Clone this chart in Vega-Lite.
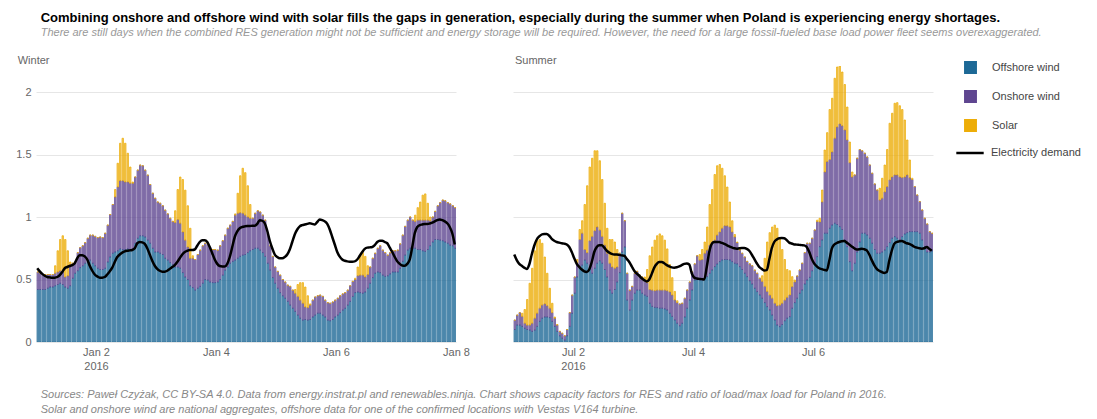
{
"$schema":"https://vega.github.io/schema/vega-lite/v6.json",
"padding":{"left":15,"top":12,"right":5,"bottom":5},
"config":{"font":"Liberation Sans","view":{"stroke":null},
"axis":{"labelFont":"Liberation Sans","labelFontSize":11,"labelColor":"#666","domain":false,"ticks":false,"title":null},
"legend":{"labelFont":"Liberation Sans","labelFontSize":11,"labelColor":"#444","rowPadding":17}},
"title":{"text":"Combining onshore and offshore wind with solar fills the gaps in generation, especially during the summer when Poland is experiencing energy shortages.","subtitle":"There are still days when the combined RES generation might not be sufficient and energy storage will be required. However, the need for a large fossil-fueled base load power fleet seems overexaggerated.","anchor":"start","dx":25,"font":"Liberation Sans","fontSize":13,"fontWeight":"bold","color":"#000","subtitleFont":"Liberation Sans","subtitleFontSize":11,"subtitleFontStyle":"italic","subtitleColor":"#999","subtitlePadding":2,"offset":17},
"datasets":{
"winter":[
{"t":"2016-01-01T00:00","off":0.42,"on":0.14,"sol":0,"dem":0.59},
{"t":"2016-01-01T01:00","off":0.42,"on":0.13,"sol":0,"dem":0.565},
{"t":"2016-01-01T02:00","off":0.42,"on":0.12,"sol":0,"dem":0.545},
{"t":"2016-01-01T03:00","off":0.42,"on":0.12,"sol":0,"dem":0.53},
{"t":"2016-01-01T04:00","off":0.43,"on":0.11,"sol":0,"dem":0.52},
{"t":"2016-01-01T05:00","off":0.44,"on":0.10,"sol":0,"dem":0.517},
{"t":"2016-01-01T06:00","off":0.44,"on":0.10,"sol":0,"dem":0.515},
{"t":"2016-01-01T07:00","off":0.45,"on":0.10,"sol":0.06,"dem":0.515},
{"t":"2016-01-01T08:00","off":0.46,"on":0.10,"sol":0.17,"dem":0.52},
{"t":"2016-01-01T09:00","off":0.47,"on":0.10,"sol":0.25,"dem":0.535},
{"t":"2016-01-01T10:00","off":0.46,"on":0.10,"sol":0.29,"dem":0.56},
{"t":"2016-01-01T11:00","off":0.44,"on":0.08,"sol":0.30,"dem":0.59},
{"t":"2016-01-01T12:00","off":0.43,"on":0.10,"sol":0.20,"dem":0.60},
{"t":"2016-01-01T13:00","off":0.45,"on":0.17,"sol":0.02,"dem":0.608},
{"t":"2016-01-01T14:00","off":0.51,"on":0.12,"sol":0,"dem":0.615},
{"t":"2016-01-01T15:00","off":0.55,"on":0.09,"sol":0,"dem":0.63},
{"t":"2016-01-01T16:00","off":0.57,"on":0.145,"sol":0,"dem":0.67},
{"t":"2016-01-01T17:00","off":0.595,"on":0.16,"sol":0,"dem":0.695},
{"t":"2016-01-01T18:00","off":0.61,"on":0.16,"sol":0,"dem":0.695},
{"t":"2016-01-01T19:00","off":0.63,"on":0.165,"sol":0,"dem":0.685},
{"t":"2016-01-01T20:00","off":0.645,"on":0.185,"sol":0,"dem":0.66},
{"t":"2016-01-01T21:00","off":0.655,"on":0.20,"sol":0,"dem":0.61},
{"t":"2016-01-01T22:00","off":0.63,"on":0.225,"sol":0,"dem":0.57},
{"t":"2016-01-01T23:00","off":0.61,"on":0.235,"sol":0,"dem":0.54},
{"t":"2016-01-02T00:00","off":0.59,"on":0.245,"sol":0,"dem":0.525},
{"t":"2016-01-02T01:00","off":0.58,"on":0.26,"sol":0,"dem":0.515},
{"t":"2016-01-02T02:00","off":0.58,"on":0.255,"sol":0,"dem":0.515},
{"t":"2016-01-02T03:00","off":0.59,"on":0.28,"sol":0,"dem":0.52},
{"t":"2016-01-02T04:00","off":0.64,"on":0.295,"sol":0,"dem":0.54},
{"t":"2016-01-02T05:00","off":0.68,"on":0.34,"sol":0,"dem":0.565},
{"t":"2016-01-02T06:00","off":0.71,"on":0.39,"sol":0,"dem":0.595},
{"t":"2016-01-02T07:00","off":0.72,"on":0.44,"sol":0.06,"dem":0.64},
{"t":"2016-01-02T08:00","off":0.73,"on":0.51,"sol":0.19,"dem":0.68},
{"t":"2016-01-02T09:00","off":0.745,"on":0.545,"sol":0.30,"dem":0.70},
{"t":"2016-01-02T10:00","off":0.74,"on":0.55,"sol":0.34,"dem":0.715},
{"t":"2016-01-02T11:00","off":0.74,"on":0.54,"sol":0.31,"dem":0.725},
{"t":"2016-01-02T12:00","off":0.745,"on":0.535,"sol":0.23,"dem":0.73},
{"t":"2016-01-02T13:00","off":0.74,"on":0.53,"sol":0.13,"dem":0.733},
{"t":"2016-01-02T14:00","off":0.745,"on":0.525,"sol":0.01,"dem":0.736},
{"t":"2016-01-02T15:00","off":0.79,"on":0.53,"sol":0,"dem":0.75},
{"t":"2016-01-02T16:00","off":0.83,"on":0.545,"sol":0,"dem":0.79},
{"t":"2016-01-02T17:00","off":0.85,"on":0.565,"sol":0,"dem":0.80},
{"t":"2016-01-02T18:00","off":0.85,"on":0.56,"sol":0,"dem":0.797},
{"t":"2016-01-02T19:00","off":0.84,"on":0.535,"sol":0,"dem":0.785},
{"t":"2016-01-02T20:00","off":0.815,"on":0.52,"sol":0,"dem":0.75},
{"t":"2016-01-02T21:00","off":0.79,"on":0.47,"sol":0,"dem":0.70},
{"t":"2016-01-02T22:00","off":0.75,"on":0.44,"sol":0,"dem":0.65},
{"t":"2016-01-02T23:00","off":0.72,"on":0.43,"sol":0,"dem":0.61},
{"t":"2016-01-03T00:00","off":0.72,"on":0.40,"sol":0,"dem":0.585},
{"t":"2016-01-03T01:00","off":0.71,"on":0.40,"sol":0,"dem":0.57},
{"t":"2016-01-03T02:00","off":0.70,"on":0.39,"sol":0,"dem":0.563},
{"t":"2016-01-03T03:00","off":0.67,"on":0.385,"sol":0,"dem":0.563},
{"t":"2016-01-03T04:00","off":0.655,"on":0.37,"sol":0,"dem":0.57},
{"t":"2016-01-03T05:00","off":0.635,"on":0.355,"sol":0,"dem":0.585},
{"t":"2016-01-03T06:00","off":0.62,"on":0.345,"sol":0,"dem":0.60},
{"t":"2016-01-03T07:00","off":0.60,"on":0.355,"sol":0.095,"dem":0.615},
{"t":"2016-01-03T08:00","off":0.60,"on":0.38,"sol":0.24,"dem":0.64},
{"t":"2016-01-03T09:00","off":0.59,"on":0.36,"sol":0.37,"dem":0.67},
{"t":"2016-01-03T10:00","off":0.555,"on":0.325,"sol":0.42,"dem":0.70},
{"t":"2016-01-03T11:00","off":0.52,"on":0.295,"sol":0.40,"dem":0.72},
{"t":"2016-01-03T12:00","off":0.50,"on":0.26,"sol":0.33,"dem":0.73},
{"t":"2016-01-03T13:00","off":0.45,"on":0.22,"sol":0.24,"dem":0.736},
{"t":"2016-01-03T14:00","off":0.435,"on":0.235,"sol":0.02,"dem":0.736},
{"t":"2016-01-03T15:00","off":0.415,"on":0.245,"sol":0,"dem":0.74},
{"t":"2016-01-03T16:00","off":0.43,"on":0.27,"sol":0,"dem":0.77},
{"t":"2016-01-03T17:00","off":0.445,"on":0.29,"sol":0,"dem":0.80},
{"t":"2016-01-03T18:00","off":0.47,"on":0.30,"sol":0,"dem":0.815},
{"t":"2016-01-03T19:00","off":0.50,"on":0.29,"sol":0,"dem":0.815},
{"t":"2016-01-03T20:00","off":0.495,"on":0.285,"sol":0,"dem":0.80},
{"t":"2016-01-03T21:00","off":0.48,"on":0.275,"sol":0,"dem":0.76},
{"t":"2016-01-03T22:00","off":0.475,"on":0.265,"sol":0,"dem":0.71},
{"t":"2016-01-03T23:00","off":0.475,"on":0.265,"sol":0,"dem":0.66},
{"t":"2016-01-04T00:00","off":0.48,"on":0.255,"sol":0,"dem":0.625},
{"t":"2016-01-04T01:00","off":0.50,"on":0.27,"sol":0,"dem":0.608},
{"t":"2016-01-04T02:00","off":0.535,"on":0.275,"sol":0,"dem":0.605},
{"t":"2016-01-04T03:00","off":0.575,"on":0.28,"sol":0,"dem":0.605},
{"t":"2016-01-04T04:00","off":0.60,"on":0.31,"sol":0,"dem":0.625},
{"t":"2016-01-04T05:00","off":0.63,"on":0.305,"sol":0,"dem":0.68},
{"t":"2016-01-04T06:00","off":0.645,"on":0.32,"sol":0,"dem":0.76},
{"t":"2016-01-04T07:00","off":0.655,"on":0.36,"sol":0.01,"dem":0.84},
{"t":"2016-01-04T08:00","off":0.67,"on":0.36,"sol":0.16,"dem":0.885},
{"t":"2016-01-04T09:00","off":0.685,"on":0.35,"sol":0.295,"dem":0.91},
{"t":"2016-01-04T10:00","off":0.695,"on":0.335,"sol":0.36,"dem":0.92},
{"t":"2016-01-04T11:00","off":0.70,"on":0.315,"sol":0.34,"dem":0.925},
{"t":"2016-01-04T12:00","off":0.715,"on":0.285,"sol":0.25,"dem":0.928},
{"t":"2016-01-04T13:00","off":0.73,"on":0.26,"sol":0.11,"dem":0.928},
{"t":"2016-01-04T14:00","off":0.74,"on":0.25,"sol":0,"dem":0.93},
{"t":"2016-01-04T15:00","off":0.75,"on":0.28,"sol":0,"dem":0.93},
{"t":"2016-01-04T16:00","off":0.75,"on":0.30,"sol":0,"dem":0.945},
{"t":"2016-01-04T17:00","off":0.735,"on":0.305,"sol":0,"dem":0.975},
{"t":"2016-01-04T18:00","off":0.715,"on":0.30,"sol":0,"dem":0.97},
{"t":"2016-01-04T19:00","off":0.685,"on":0.29,"sol":0,"dem":0.95},
{"t":"2016-01-04T20:00","off":0.63,"on":0.24,"sol":0,"dem":0.89},
{"t":"2016-01-04T21:00","off":0.575,"on":0.195,"sol":0,"dem":0.81},
{"t":"2016-01-04T22:00","off":0.515,"on":0.17,"sol":0,"dem":0.75},
{"t":"2016-01-04T23:00","off":0.47,"on":0.13,"sol":0,"dem":0.70},
{"t":"2016-01-05T00:00","off":0.43,"on":0.135,"sol":0,"dem":0.68},
{"t":"2016-01-05T01:00","off":0.395,"on":0.14,"sol":0,"dem":0.67},
{"t":"2016-01-05T02:00","off":0.37,"on":0.13,"sol":0,"dem":0.67},
{"t":"2016-01-05T03:00","off":0.35,"on":0.13,"sol":0,"dem":0.68},
{"t":"2016-01-05T04:00","off":0.325,"on":0.13,"sol":0,"dem":0.70},
{"t":"2016-01-05T05:00","off":0.295,"on":0.15,"sol":0,"dem":0.74},
{"t":"2016-01-05T06:00","off":0.27,"on":0.145,"sol":0,"dem":0.80},
{"t":"2016-01-05T07:00","off":0.245,"on":0.145,"sol":0.03,"dem":0.86},
{"t":"2016-01-05T08:00","off":0.215,"on":0.15,"sol":0.095,"dem":0.90},
{"t":"2016-01-05T09:00","off":0.19,"on":0.145,"sol":0.14,"dem":0.925},
{"t":"2016-01-05T10:00","off":0.175,"on":0.135,"sol":0.165,"dem":0.935},
{"t":"2016-01-05T11:00","off":0.18,"on":0.10,"sol":0.16,"dem":0.94},
{"t":"2016-01-05T12:00","off":0.175,"on":0.10,"sol":0.095,"dem":0.945},
{"t":"2016-01-05T13:00","off":0.18,"on":0.115,"sol":0.01,"dem":0.95},
{"t":"2016-01-05T14:00","off":0.20,"on":0.135,"sol":0,"dem":0.945},
{"t":"2016-01-05T15:00","off":0.215,"on":0.145,"sol":0,"dem":0.94},
{"t":"2016-01-05T16:00","off":0.23,"on":0.14,"sol":0,"dem":0.96},
{"t":"2016-01-05T17:00","off":0.23,"on":0.145,"sol":0,"dem":0.98},
{"t":"2016-01-05T18:00","off":0.215,"on":0.15,"sol":0,"dem":0.975},
{"t":"2016-01-05T19:00","off":0.20,"on":0.135,"sol":0,"dem":0.965},
{"t":"2016-01-05T20:00","off":0.175,"on":0.14,"sol":0,"dem":0.945},
{"t":"2016-01-05T21:00","off":0.17,"on":0.14,"sol":0,"dem":0.90},
{"t":"2016-01-05T22:00","off":0.18,"on":0.14,"sol":0,"dem":0.84},
{"t":"2016-01-05T23:00","off":0.20,"on":0.135,"sol":0,"dem":0.78},
{"t":"2016-01-06T00:00","off":0.215,"on":0.135,"sol":0,"dem":0.72},
{"t":"2016-01-06T01:00","off":0.235,"on":0.135,"sol":0,"dem":0.683},
{"t":"2016-01-06T02:00","off":0.255,"on":0.13,"sol":0,"dem":0.66},
{"t":"2016-01-06T03:00","off":0.27,"on":0.125,"sol":0,"dem":0.65},
{"t":"2016-01-06T04:00","off":0.295,"on":0.12,"sol":0,"dem":0.645},
{"t":"2016-01-06T05:00","off":0.325,"on":0.125,"sol":0,"dem":0.643},
{"t":"2016-01-06T06:00","off":0.365,"on":0.12,"sol":0,"dem":0.643},
{"t":"2016-01-06T07:00","off":0.395,"on":0.105,"sol":0.01,"dem":0.645},
{"t":"2016-01-06T08:00","off":0.40,"on":0.13,"sol":0.07,"dem":0.66},
{"t":"2016-01-06T09:00","off":0.395,"on":0.14,"sol":0.155,"dem":0.69},
{"t":"2016-01-06T10:00","off":0.39,"on":0.145,"sol":0.18,"dem":0.72},
{"t":"2016-01-06T11:00","off":0.40,"on":0.12,"sol":0.165,"dem":0.745},
{"t":"2016-01-06T12:00","off":0.43,"on":0.11,"sol":0.07,"dem":0.755},
{"t":"2016-01-06T13:00","off":0.47,"on":0.13,"sol":0,"dem":0.757},
{"t":"2016-01-06T14:00","off":0.515,"on":0.155,"sol":0,"dem":0.76},
{"t":"2016-01-06T15:00","off":0.55,"on":0.16,"sol":0,"dem":0.775},
{"t":"2016-01-06T16:00","off":0.56,"on":0.19,"sol":0,"dem":0.80},
{"t":"2016-01-06T17:00","off":0.555,"on":0.215,"sol":0,"dem":0.81},
{"t":"2016-01-06T18:00","off":0.535,"on":0.20,"sol":0,"dem":0.81},
{"t":"2016-01-06T19:00","off":0.525,"on":0.19,"sol":0,"dem":0.80},
{"t":"2016-01-06T20:00","off":0.53,"on":0.165,"sol":0,"dem":0.79},
{"t":"2016-01-06T21:00","off":0.545,"on":0.17,"sol":0,"dem":0.755},
{"t":"2016-01-06T22:00","off":0.56,"on":0.17,"sol":0,"dem":0.72},
{"t":"2016-01-06T23:00","off":0.56,"on":0.17,"sol":0,"dem":0.68},
{"t":"2016-01-07T00:00","off":0.56,"on":0.175,"sol":0,"dem":0.645},
{"t":"2016-01-07T01:00","off":0.59,"on":0.195,"sol":0,"dem":0.625},
{"t":"2016-01-07T02:00","off":0.645,"on":0.21,"sol":0,"dem":0.612},
{"t":"2016-01-07T03:00","off":0.695,"on":0.23,"sol":0,"dem":0.61},
{"t":"2016-01-07T04:00","off":0.735,"on":0.24,"sol":0,"dem":0.625},
{"t":"2016-01-07T05:00","off":0.75,"on":0.25,"sol":0,"dem":0.66},
{"t":"2016-01-07T06:00","off":0.75,"on":0.225,"sol":0,"dem":0.76},
{"t":"2016-01-07T07:00","off":0.75,"on":0.215,"sol":0.05,"dem":0.87},
{"t":"2016-01-07T08:00","off":0.74,"on":0.235,"sol":0.10,"dem":0.92},
{"t":"2016-01-07T09:00","off":0.74,"on":0.235,"sol":0.145,"dem":0.935},
{"t":"2016-01-07T10:00","off":0.73,"on":0.245,"sol":0.20,"dem":0.94},
{"t":"2016-01-07T11:00","off":0.725,"on":0.25,"sol":0.21,"dem":0.944},
{"t":"2016-01-07T12:00","off":0.74,"on":0.235,"sol":0.135,"dem":0.944},
{"t":"2016-01-07T13:00","off":0.77,"on":0.20,"sol":0.03,"dem":0.948},
{"t":"2016-01-07T14:00","off":0.80,"on":0.20,"sol":0,"dem":0.955},
{"t":"2016-01-07T15:00","off":0.82,"on":0.225,"sol":0,"dem":0.965},
{"t":"2016-01-07T16:00","off":0.82,"on":0.27,"sol":0,"dem":0.975},
{"t":"2016-01-07T17:00","off":0.815,"on":0.30,"sol":0,"dem":0.98},
{"t":"2016-01-07T18:00","off":0.81,"on":0.325,"sol":0,"dem":0.975},
{"t":"2016-01-07T19:00","off":0.80,"on":0.33,"sol":0,"dem":0.965},
{"t":"2016-01-07T20:00","off":0.79,"on":0.325,"sol":0,"dem":0.95},
{"t":"2016-01-07T21:00","off":0.775,"on":0.33,"sol":0,"dem":0.92},
{"t":"2016-01-07T22:00","off":0.77,"on":0.32,"sol":0,"dem":0.87},
{"t":"2016-01-07T23:00","off":0.75,"on":0.325,"sol":0,"dem":0.78}
],
"summer":[
{"t":"2016-07-01T00:00","off":0.10,"on":0.075,"sol":0,"dem":0.70},
{"t":"2016-07-01T01:00","off":0.135,"on":0.08,"sol":0,"dem":0.655},
{"t":"2016-07-01T02:00","off":0.135,"on":0.10,"sol":0,"dem":0.625},
{"t":"2016-07-01T03:00","off":0.125,"on":0.08,"sol":0.025,"dem":0.61},
{"t":"2016-07-01T04:00","off":0.11,"on":0.04,"sol":0.11,"dem":0.595},
{"t":"2016-07-01T05:00","off":0.10,"on":0.035,"sol":0.205,"dem":0.585},
{"t":"2016-07-01T06:00","off":0.095,"on":0.04,"sol":0.335,"dem":0.62},
{"t":"2016-07-01T07:00","off":0.085,"on":0.065,"sol":0.44,"dem":0.70},
{"t":"2016-07-01T08:00","off":0.095,"on":0.095,"sol":0.54,"dem":0.77},
{"t":"2016-07-01T09:00","off":0.125,"on":0.105,"sol":0.58,"dem":0.82},
{"t":"2016-07-01T10:00","off":0.165,"on":0.105,"sol":0.55,"dem":0.845},
{"t":"2016-07-01T11:00","off":0.19,"on":0.105,"sol":0.495,"dem":0.86},
{"t":"2016-07-01T12:00","off":0.20,"on":0.105,"sol":0.375,"dem":0.865},
{"t":"2016-07-01T13:00","off":0.20,"on":0.09,"sol":0.26,"dem":0.865},
{"t":"2016-07-01T14:00","off":0.195,"on":0.075,"sol":0.16,"dem":0.85},
{"t":"2016-07-01T15:00","off":0.165,"on":0.07,"sol":0.075,"dem":0.825},
{"t":"2016-07-01T16:00","off":0.125,"on":0.065,"sol":0.01,"dem":0.81},
{"t":"2016-07-01T17:00","off":0.085,"on":0.05,"sol":0.005,"dem":0.80},
{"t":"2016-07-01T18:00","off":0.05,"on":0.035,"sol":0,"dem":0.795},
{"t":"2016-07-01T19:00","off":0.03,"on":0.04,"sol":0,"dem":0.79},
{"t":"2016-07-01T20:00","off":0.015,"on":0.035,"sol":0,"dem":0.787},
{"t":"2016-07-01T21:00","off":0.05,"on":0.05,"sol":0,"dem":0.78},
{"t":"2016-07-01T22:00","off":0.125,"on":0.11,"sol":0,"dem":0.76},
{"t":"2016-07-01T23:00","off":0.23,"on":0.145,"sol":0,"dem":0.72},
{"t":"2016-07-02T00:00","off":0.39,"on":0.13,"sol":0,"dem":0.67},
{"t":"2016-07-02T01:00","off":0.52,"on":0.11,"sol":0.03,"dem":0.625},
{"t":"2016-07-02T02:00","off":0.60,"on":0.22,"sol":0.08,"dem":0.60},
{"t":"2016-07-02T03:00","off":0.615,"on":0.255,"sol":0.10,"dem":0.58},
{"t":"2016-07-02T04:00","off":0.655,"on":0.085,"sol":0.36,"dem":0.565},
{"t":"2016-07-02T05:00","off":0.63,"on":0.085,"sol":0.535,"dem":0.56},
{"t":"2016-07-02T06:00","off":0.59,"on":0.22,"sol":0.59,"dem":0.58},
{"t":"2016-07-02T07:00","off":0.55,"on":0.295,"sol":0.625,"dem":0.64},
{"t":"2016-07-02T08:00","off":0.59,"on":0.30,"sol":0.64,"dem":0.72},
{"t":"2016-07-02T09:00","off":0.63,"on":0.29,"sol":0.61,"dem":0.76},
{"t":"2016-07-02T10:00","off":0.65,"on":0.245,"sol":0.555,"dem":0.775},
{"t":"2016-07-02T11:00","off":0.63,"on":0.215,"sol":0.455,"dem":0.775},
{"t":"2016-07-02T12:00","off":0.58,"on":0.195,"sol":0.335,"dem":0.755},
{"t":"2016-07-02T13:00","off":0.52,"on":0.19,"sol":0.20,"dem":0.73},
{"t":"2016-07-02T14:00","off":0.415,"on":0.215,"sol":0.19,"dem":0.715},
{"t":"2016-07-02T15:00","off":0.39,"on":0.21,"sol":0.22,"dem":0.705},
{"t":"2016-07-02T16:00","off":0.42,"on":0.17,"sol":0.21,"dem":0.70},
{"t":"2016-07-02T17:00","off":0.48,"on":0.12,"sol":0.14,"dem":0.70},
{"t":"2016-07-02T18:00","off":0.555,"on":0.155,"sol":0,"dem":0.697},
{"t":"2016-07-02T19:00","off":0.72,"on":0.31,"sol":0,"dem":0.693},
{"t":"2016-07-02T20:00","off":0.76,"on":0.21,"sol":0,"dem":0.69},
{"t":"2016-07-02T21:00","off":0.335,"on":0.215,"sol":0,"dem":0.665},
{"t":"2016-07-02T22:00","off":0.255,"on":0.16,"sol":0,"dem":0.64},
{"t":"2016-07-02T23:00","off":0.335,"on":0.11,"sol":0,"dem":0.605},
{"t":"2016-07-03T00:00","off":0.39,"on":0.16,"sol":0,"dem":0.57},
{"t":"2016-07-03T01:00","off":0.415,"on":0.15,"sol":0,"dem":0.548},
{"t":"2016-07-03T02:00","off":0.415,"on":0.12,"sol":0,"dem":0.53},
{"t":"2016-07-03T03:00","off":0.39,"on":0.13,"sol":0,"dem":0.51},
{"t":"2016-07-03T04:00","off":0.375,"on":0.115,"sol":0.03,"dem":0.495},
{"t":"2016-07-03T05:00","off":0.365,"on":0.11,"sol":0.105,"dem":0.485},
{"t":"2016-07-03T06:00","off":0.31,"on":0.11,"sol":0.27,"dem":0.50},
{"t":"2016-07-03T07:00","off":0.285,"on":0.13,"sol":0.345,"dem":0.545},
{"t":"2016-07-03T08:00","off":0.277,"on":0.133,"sol":0.405,"dem":0.595},
{"t":"2016-07-03T09:00","off":0.275,"on":0.14,"sol":0.435,"dem":0.625},
{"t":"2016-07-03T10:00","off":0.27,"on":0.145,"sol":0.45,"dem":0.64},
{"t":"2016-07-03T11:00","off":0.27,"on":0.145,"sol":0.435,"dem":0.64},
{"t":"2016-07-03T12:00","off":0.265,"on":0.15,"sol":0.40,"dem":0.63},
{"t":"2016-07-03T13:00","off":0.256,"on":0.154,"sol":0.335,"dem":0.615},
{"t":"2016-07-03T14:00","off":0.23,"on":0.17,"sol":0.22,"dem":0.605},
{"t":"2016-07-03T15:00","off":0.205,"on":0.171,"sol":0.139,"dem":0.597},
{"t":"2016-07-03T16:00","off":0.176,"on":0.16,"sol":0.069,"dem":0.595},
{"t":"2016-07-03T17:00","off":0.15,"on":0.165,"sol":0.015,"dem":0.598},
{"t":"2016-07-03T18:00","off":0.13,"on":0.174,"sol":0,"dem":0.605},
{"t":"2016-07-03T19:00","off":0.15,"on":0.16,"sol":0,"dem":0.615},
{"t":"2016-07-03T20:00","off":0.20,"on":0.15,"sol":0,"dem":0.625},
{"t":"2016-07-03T21:00","off":0.27,"on":0.146,"sol":0,"dem":0.628},
{"t":"2016-07-03T22:00","off":0.336,"on":0.144,"sol":0,"dem":0.62},
{"t":"2016-07-03T23:00","off":0.416,"on":0.144,"sol":0,"dem":0.55},
{"t":"2016-07-04T00:00","off":0.496,"on":0.129,"sol":0,"dem":0.515},
{"t":"2016-07-04T01:00","off":0.51,"on":0.18,"sol":0,"dem":0.508},
{"t":"2016-07-04T02:00","off":0.496,"on":0.159,"sol":0.045,"dem":0.505},
{"t":"2016-07-04T03:00","off":0.495,"on":0.165,"sol":0.08,"dem":0.503},
{"t":"2016-07-04T04:00","off":0.51,"on":0.20,"sol":0.09,"dem":0.50},
{"t":"2016-07-04T05:00","off":0.523,"on":0.212,"sol":0.185,"dem":0.60},
{"t":"2016-07-04T06:00","off":0.55,"on":0.225,"sol":0.325,"dem":0.72},
{"t":"2016-07-04T07:00","off":0.576,"on":0.224,"sol":0.42,"dem":0.785},
{"t":"2016-07-04T08:00","off":0.603,"on":0.212,"sol":0.525,"dem":0.80},
{"t":"2016-07-04T09:00","off":0.624,"on":0.231,"sol":0.555,"dem":0.80},
{"t":"2016-07-04T10:00","off":0.643,"on":0.237,"sol":0.54,"dem":0.80},
{"t":"2016-07-04T11:00","off":0.656,"on":0.254,"sol":0.48,"dem":0.793},
{"t":"2016-07-04T12:00","off":0.66,"on":0.27,"sol":0.40,"dem":0.785},
{"t":"2016-07-04T13:00","off":0.66,"on":0.27,"sol":0.31,"dem":0.775},
{"t":"2016-07-04T14:00","off":0.656,"on":0.264,"sol":0.20,"dem":0.765},
{"t":"2016-07-04T15:00","off":0.643,"on":0.237,"sol":0.09,"dem":0.757},
{"t":"2016-07-04T16:00","off":0.63,"on":0.21,"sol":0.02,"dem":0.75},
{"t":"2016-07-04T17:00","off":0.625,"on":0.17,"sol":0.005,"dem":0.747},
{"t":"2016-07-04T18:00","off":0.603,"on":0.132,"sol":0.005,"dem":0.75},
{"t":"2016-07-04T19:00","off":0.58,"on":0.13,"sol":0,"dem":0.752},
{"t":"2016-07-04T20:00","off":0.55,"on":0.13,"sol":0,"dem":0.752},
{"t":"2016-07-04T21:00","off":0.523,"on":0.122,"sol":0,"dem":0.745},
{"t":"2016-07-04T22:00","off":0.49,"on":0.135,"sol":0,"dem":0.73},
{"t":"2016-07-04T23:00","off":0.464,"on":0.146,"sol":0,"dem":0.70},
{"t":"2016-07-05T00:00","off":0.43,"on":0.145,"sol":0,"dem":0.665},
{"t":"2016-07-05T01:00","off":0.403,"on":0.147,"sol":0,"dem":0.63},
{"t":"2016-07-05T02:00","off":0.376,"on":0.134,"sol":0,"dem":0.60},
{"t":"2016-07-05T03:00","off":0.35,"on":0.135,"sol":0.045,"dem":0.585},
{"t":"2016-07-05T04:00","off":0.315,"on":0.13,"sol":0.225,"dem":0.573},
{"t":"2016-07-05T05:00","off":0.283,"on":0.122,"sol":0.395,"dem":0.575},
{"t":"2016-07-05T06:00","off":0.256,"on":0.119,"sol":0.50,"dem":0.66},
{"t":"2016-07-05T07:00","off":0.216,"on":0.134,"sol":0.57,"dem":0.75},
{"t":"2016-07-05T08:00","off":0.176,"on":0.134,"sol":0.625,"dem":0.80},
{"t":"2016-07-05T09:00","off":0.136,"on":0.154,"sol":0.62,"dem":0.82},
{"t":"2016-07-05T10:00","off":0.123,"on":0.172,"sol":0.535,"dem":0.83},
{"t":"2016-07-05T11:00","off":0.14,"on":0.17,"sol":0.43,"dem":0.832},
{"t":"2016-07-05T12:00","off":0.17,"on":0.165,"sol":0.325,"dem":0.83},
{"t":"2016-07-05T13:00","off":0.19,"on":0.167,"sol":0.223,"dem":0.815},
{"t":"2016-07-05T14:00","off":0.203,"on":0.173,"sol":0.194,"dem":0.795},
{"t":"2016-07-05T15:00","off":0.27,"on":0.173,"sol":0.08,"dem":0.788},
{"t":"2016-07-05T16:00","off":0.315,"on":0.165,"sol":0.016,"dem":0.78},
{"t":"2016-07-05T17:00","off":0.35,"on":0.178,"sol":0,"dem":0.779},
{"t":"2016-07-05T18:00","off":0.39,"on":0.186,"sol":0,"dem":0.777},
{"t":"2016-07-05T19:00","off":0.416,"on":0.214,"sol":0,"dem":0.775},
{"t":"2016-07-05T20:00","off":0.464,"on":0.251,"sol":0,"dem":0.773},
{"t":"2016-07-05T21:00","off":0.496,"on":0.294,"sol":0,"dem":0.76},
{"t":"2016-07-05T22:00","off":0.517,"on":0.273,"sol":0,"dem":0.72},
{"t":"2016-07-05T23:00","off":0.57,"on":0.26,"sol":0,"dem":0.665},
{"t":"2016-07-06T00:00","off":0.63,"on":0.266,"sol":0,"dem":0.627},
{"t":"2016-07-06T01:00","off":0.683,"on":0.28,"sol":0.012,"dem":0.605},
{"t":"2016-07-06T02:00","off":0.763,"on":0.197,"sol":0.03,"dem":0.59},
{"t":"2016-07-06T03:00","off":0.816,"on":0.304,"sol":0.096,"dem":0.583},
{"t":"2016-07-06T04:00","off":0.87,"on":0.49,"sol":0.176,"dem":0.577},
{"t":"2016-07-06T05:00","off":0.87,"on":0.573,"sol":0.232,"dem":0.573},
{"t":"2016-07-06T06:00","off":0.91,"on":0.55,"sol":0.40,"dem":0.65},
{"t":"2016-07-06T07:00","off":0.936,"on":0.584,"sol":0.43,"dem":0.745},
{"t":"2016-07-06T08:00","off":0.95,"on":0.68,"sol":0.48,"dem":0.78},
{"t":"2016-07-06T09:00","off":0.94,"on":0.78,"sol":0.48,"dem":0.792},
{"t":"2016-07-06T10:00","off":0.923,"on":0.821,"sol":0.466,"dem":0.80},
{"t":"2016-07-06T11:00","off":0.90,"on":0.83,"sol":0.43,"dem":0.806},
{"t":"2016-07-06T12:00","off":0.816,"on":0.88,"sol":0.364,"dem":0.808},
{"t":"2016-07-06T13:00","off":0.763,"on":0.853,"sol":0.264,"dem":0.795},
{"t":"2016-07-06T14:00","off":0.643,"on":0.792,"sol":0.165,"dem":0.78},
{"t":"2016-07-06T15:00","off":0.57,"on":0.75,"sol":0.04,"dem":0.765},
{"t":"2016-07-06T16:00","off":0.63,"on":0.706,"sol":0,"dem":0.75},
{"t":"2016-07-06T17:00","off":0.72,"on":0.75,"sol":0,"dem":0.74},
{"t":"2016-07-06T18:00","off":0.80,"on":0.74,"sol":0,"dem":0.742},
{"t":"2016-07-06T19:00","off":0.87,"on":0.66,"sol":0,"dem":0.747},
{"t":"2016-07-06T20:00","off":0.87,"on":0.64,"sol":0,"dem":0.742},
{"t":"2016-07-06T21:00","off":0.856,"on":0.624,"sol":0,"dem":0.733},
{"t":"2016-07-06T22:00","off":0.83,"on":0.586,"sol":0,"dem":0.70},
{"t":"2016-07-06T23:00","off":0.79,"on":0.56,"sol":0,"dem":0.655},
{"t":"2016-07-07T00:00","off":0.74,"on":0.524,"sol":0,"dem":0.615},
{"t":"2016-07-07T01:00","off":0.71,"on":0.506,"sol":0,"dem":0.585},
{"t":"2016-07-07T02:00","off":0.71,"on":0.426,"sol":0.094,"dem":0.57},
{"t":"2016-07-07T03:00","off":0.72,"on":0.43,"sol":0.16,"dem":0.56},
{"t":"2016-07-07T04:00","off":0.736,"on":0.464,"sol":0.216,"dem":0.553},
{"t":"2016-07-07T05:00","off":0.763,"on":0.48,"sol":0.297,"dem":0.56},
{"t":"2016-07-07T06:00","off":0.795,"on":0.501,"sol":0.454,"dem":0.65},
{"t":"2016-07-07T07:00","off":0.83,"on":0.49,"sol":0.51,"dem":0.73},
{"t":"2016-07-07T08:00","off":0.843,"on":0.493,"sol":0.574,"dem":0.785},
{"t":"2016-07-07T09:00","off":0.83,"on":0.506,"sol":0.579,"dem":0.80},
{"t":"2016-07-07T10:00","off":0.816,"on":0.504,"sol":0.57,"dem":0.805},
{"t":"2016-07-07T11:00","off":0.843,"on":0.472,"sol":0.545,"dem":0.808},
{"t":"2016-07-07T12:00","off":0.864,"on":0.456,"sol":0.456,"dem":0.80},
{"t":"2016-07-07T13:00","off":0.875,"on":0.461,"sol":0.28,"dem":0.79},
{"t":"2016-07-07T14:00","off":0.883,"on":0.432,"sol":0.141,"dem":0.785},
{"t":"2016-07-07T15:00","off":0.883,"on":0.417,"sol":0.01,"dem":0.775},
{"t":"2016-07-07T16:00","off":0.883,"on":0.36,"sol":0,"dem":0.762},
{"t":"2016-07-07T17:00","off":0.883,"on":0.293,"sol":0,"dem":0.755},
{"t":"2016-07-07T18:00","off":0.87,"on":0.253,"sol":0,"dem":0.75},
{"t":"2016-07-07T19:00","off":0.816,"on":0.24,"sol":0,"dem":0.747},
{"t":"2016-07-07T20:00","off":0.763,"on":0.227,"sol":0,"dem":0.75},
{"t":"2016-07-07T21:00","off":0.72,"on":0.224,"sol":0,"dem":0.76},
{"t":"2016-07-07T22:00","off":0.72,"on":0.163,"sol":0,"dem":0.745},
{"t":"2016-07-07T23:00","off":0.73,"on":0.14,"sol":0,"dem":0.73}
]},
"vconcat":[{
"title":{"text":["Sources: Paweł Czyżak, CC BY-SA 4.0. Data from energy.instrat.pl and renewables.ninja. Chart shows capacity factors for RES and ratio of load/max load for Poland in 2016.","Solar and onshore wind are national aggregates, offshore data for one of the confirmed locations with Vestas V164 turbine."],"orient":"bottom","anchor":"start","dx":25,"font":"Liberation Sans","fontSize":11,"fontStyle":"italic","fontWeight":"normal","color":"#888","lineHeight":15,"offset":18},
"spacing":43,
"hconcat":[
{"width":420,"height":276,
"title":{"text":"Winter","anchor":"start","fontSize":11,"fontWeight":"normal","color":"#666","offset":0,"dx":2},
"data":{"name":"winter"},
"layer":[
{"transform":[{"fold":["off","on","sol"],"as":["source","cf"]}],
"mark":{"type":"bar","fillOpacity":0.65,"timeUnitBandSize":0.8,"clip":true},
"encoding":{
"x":{"field":"t","type":"temporal","timeUnit":"yearmonthdatehours","scale":{"domain":[{"year":2016,"month":1,"date":1},{"year":2016,"month":1,"date":8}]},
"axis":{"values":[{"year":2016,"month":1,"date":2},{"year":2016,"month":1,"date":4},{"year":2016,"month":1,"date":6},{"year":2016,"month":1,"date":8}],"labelExpr":"date(datum.value)==2 ? [timeFormat(datum.value,'%b %-d'),'2016'] : timeFormat(datum.value,'%b %-d')","grid":false,"labelPadding":4,"labelLineHeight":14,"labelOverlap":false,"labelFlush":false}},
"y":{"field":"cf","type":"quantitative","stack":"zero","scale":{"domain":[0,2.208],"nice":false},
"axis":{"values":[0,0.5,1,1.5,2],"format":"~g","gridColor":"#e6e6e6","labelPadding":5}},
"order":{"field":"source","sort":"ascending"},
"color":{"field":"source","type":"nominal","scale":{"domain":["off","on","sol"],"range":["#1D6996","#5F4690","#EDAD08"]},
"legend":{"title":null,"symbolType":"square","symbolSize":130,"labelOffset":15,"rowPadding":10,"padding":-5,"offset":36,"labelExpr":"datum.label=='off' ? 'Offshore wind' : datum.label=='on' ? 'Onshore wind' : 'Solar'"}}}},
{"transform":[{"fold":["off","on","sol"],"as":["source","cf"]}],
"mark":{"type":"bar","filled":false,"strokeWidth":0.7,"timeUnitBandSize":0.8,"clip":true},
"encoding":{
"x":{"field":"t","type":"temporal","timeUnit":"yearmonthdatehours"},
"y":{"field":"cf","type":"quantitative","stack":"zero"},
"order":{"field":"source","sort":"ascending"},
"color":{"field":"source","type":"nominal"}}},
{"mark":{"type":"line","strokeWidth":2.5,"interpolate":"monotone","clip":true},
"encoding":{
"x":{"field":"t","type":"temporal","timeUnit":"yearmonthdatehours","bandPosition":0.5},
"y":{"field":"dem","type":"quantitative"},
"stroke":{"datum":"Electricity demand","type":"nominal","scale":{"range":["#000000"]},
"legend":{"title":null,"symbolType":"stroke","symbolSize":750,"symbolStrokeWidth":2.5,"symbolOffset":-14,"labelOffset":6,"offset":35}}}}
]},
{"width":420,"height":276,
"title":{"text":"Summer","anchor":"start","fontSize":11,"fontWeight":"normal","color":"#666","offset":0,"dx":2},
"data":{"name":"summer"},
"layer":[
{"transform":[{"fold":["off","on","sol"],"as":["source","cf"]}],
"mark":{"type":"bar","fillOpacity":0.65,"timeUnitBandSize":0.8,"clip":true},
"encoding":{
"x":{"field":"t","type":"temporal","timeUnit":"yearmonthdatehours","scale":{"domain":[{"year":2016,"month":7,"date":1},{"year":2016,"month":7,"date":8}]},
"axis":{"values":[{"year":2016,"month":7,"date":2},{"year":2016,"month":7,"date":4},{"year":2016,"month":7,"date":6}],"labelExpr":"date(datum.value)==2 ? [timeFormat(datum.value,'%b %-d'),'2016'] : timeFormat(datum.value,'%b %-d')","grid":false,"labelPadding":4,"labelLineHeight":14,"labelOverlap":false,"labelFlush":false}},
"y":{"field":"cf","type":"quantitative","stack":"zero","scale":{"domain":[0,2.208],"nice":false},
"axis":{"values":[0,0.5,1,1.5,2],"labels":false,"gridColor":"#e6e6e6","minExtent":0,"maxExtent":0}},
"order":{"field":"source","sort":"ascending"},
"color":{"field":"source","type":"nominal"}}},
{"transform":[{"fold":["off","on","sol"],"as":["source","cf"]}],
"mark":{"type":"bar","filled":false,"strokeWidth":0.7,"timeUnitBandSize":0.8,"clip":true},
"encoding":{
"x":{"field":"t","type":"temporal","timeUnit":"yearmonthdatehours"},
"y":{"field":"cf","type":"quantitative","stack":"zero"},
"order":{"field":"source","sort":"ascending"},
"color":{"field":"source","type":"nominal"}}},
{"mark":{"type":"line","strokeWidth":2.5,"interpolate":"monotone","clip":true},
"encoding":{
"x":{"field":"t","type":"temporal","timeUnit":"yearmonthdatehours","bandPosition":0.5},
"y":{"field":"dem","type":"quantitative"},
"stroke":{"datum":"Electricity demand","type":"nominal"}}}
]}
]}]
}
